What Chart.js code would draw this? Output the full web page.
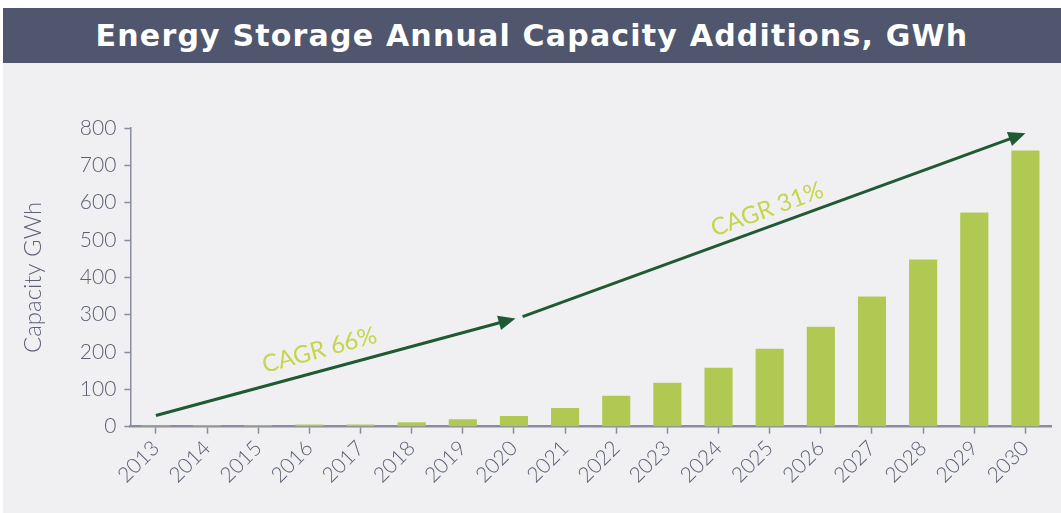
<!DOCTYPE html>
<html>
<head>
<meta charset="utf-8">
<script src="https://cdn.jsdelivr.net/npm/chart.js@4.4.0/dist/chart.umd.min.js"></script>
<style>
  html, body { margin: 0; padding: 0; background: #fff; }
  body { width: 1061px; height: 513px; position: relative; overflow: hidden; }
  #title {
    position: absolute; left: 3px; top: 8px; width: 1058px; height: 55px;
    background: #50566d; color: #fff;
    font-family: 'DejaVu Sans', sans-serif; font-weight: bold; font-size: 30px;
    letter-spacing: 1.2px;
    display: flex; align-items: center; justify-content: center;
  }
  #wrap { position: absolute; left: 3px; top: 63px; width: 1058px; height: 450px; background: #f0f0f2; }
</style>
</head>
<body>
<div id="title">Energy Storage Annual Capacity Additions, GWh</div>
<div id="wrap"><canvas id="chart"></canvas></div>
<script>
// ===== DATA =====
const years = ['2013', '2014', '2015', '2016', '2017', '2018', '2019', '2020', '2021',
  '2022', '2023', '2024', '2025', '2026', '2027', '2028', '2029', '2030'];
const capacity = [3, 4, 4, 6, 6, 12, 20, 29, 50, 83, 118, 158, 209, 268, 349, 448, 574, 740];
const yTicks = [0, 100, 200, 300, 400, 500, 600, 700, 800];

// trend arrows, in category index / GWh units
const arrowStart = [[0, 30], [7.17, 295]];
const arrowEnd = [[7.03, 290], [17, 786]];
const cagrLabels = ['CAGR 66%', 'CAGR 31%'];
const labelAt = [[3.2, 205], [11.95, 582]];

const AXIS = '#8a8ca0';
const TEXT = '#5c5f75';
const FONT = 'Lato';

const arrowPlugin = {
  id: 'cagrArrows',
  afterDatasetsDraw(chart) {
    const { ctx, scales: { x, y } } = chart;
    ctx.save();
    arrowStart.forEach((s, i) => {
      const x0 = x.getPixelForValue(s[0]), y0 = y.getPixelForValue(s[1]);
      const x1 = x.getPixelForValue(arrowEnd[i][0]), y1 = y.getPixelForValue(arrowEnd[i][1]);
      const ang = Math.atan2(y1 - y0, x1 - x0);
      const head = 17, half = 7.5;
      ctx.strokeStyle = '#1f5a34';
      ctx.fillStyle = '#1f5a34';
      ctx.lineWidth = 3;
      ctx.beginPath();
      ctx.moveTo(x0, y0);
      ctx.lineTo(x1 - Math.cos(ang) * head * 0.8, y1 - Math.sin(ang) * head * 0.8);
      ctx.stroke();
      ctx.beginPath();
      ctx.moveTo(x1, y1);
      ctx.lineTo(x1 - Math.cos(ang) * head - Math.sin(ang) * half, y1 - Math.sin(ang) * head + Math.cos(ang) * half);
      ctx.lineTo(x1 - Math.cos(ang) * head + Math.sin(ang) * half, y1 - Math.sin(ang) * head - Math.cos(ang) * half);
      ctx.closePath();
      ctx.fill();

      const lx = x.getPixelForValue(labelAt[i][0]), ly = y.getPixelForValue(labelAt[i][1]);
      ctx.save();
      ctx.translate(lx, ly);
      ctx.rotate(ang);
      ctx.fillStyle = '#c6d54b';
      ctx.font = `24px ${FONT}`;
      ctx.textAlign = 'center';
      ctx.textBaseline = 'middle';
      ctx.fillText(cagrLabels[i], 0, 0);
      ctx.restore();
    });
    ctx.restore();
  }
};

new Chart(document.getElementById('chart'), {
  type: 'bar',
  data: {
    labels: years,
    datasets: [{
      data: capacity,
      backgroundColor: '#b1c953',
      borderWidth: 0,
      categoryPercentage: 1,
      barPercentage: 0.55
    }]
  },
  options: {
    responsive: true,
    maintainAspectRatio: false,
    animation: false,
    layout: { padding: { top: 65, right: 10, left: 12, bottom: 23 } },
    plugins: {
      legend: { display: false },
      tooltip: { enabled: false }
    },
    scales: {
      x: {
        grid: { display: true, drawOnChartArea: false, offset: false, color: AXIS, tickLength: 7, tickWidth: 1.5 },
        border: { color: AXIS, width: 2.5 },
        ticks: { font: { family: FONT, size: 21, weight: 300 }, color: TEXT, minRotation: 45, maxRotation: 45, padding: 2 }
      },
      y: {
        min: 0,
        max: 800,
        afterBuildTicks(axis) { axis.ticks = yTicks.map(v => ({ value: v })); },
        grid: { display: true, drawOnChartArea: false, color: AXIS, tickLength: 6, tickWidth: 1.5 },
        border: { color: AXIS, width: 1.5 },
        ticks: { font: { family: FONT, size: 21, weight: 300 }, color: TEXT, padding: 8 },
        title: { display: true, text: 'Capacity GWh', font: { family: FONT, size: 24, weight: 300 }, color: TEXT, padding: { bottom: 24 } }
      }
    }
  },
  plugins: [arrowPlugin]
});
</script>
</body>
</html>
